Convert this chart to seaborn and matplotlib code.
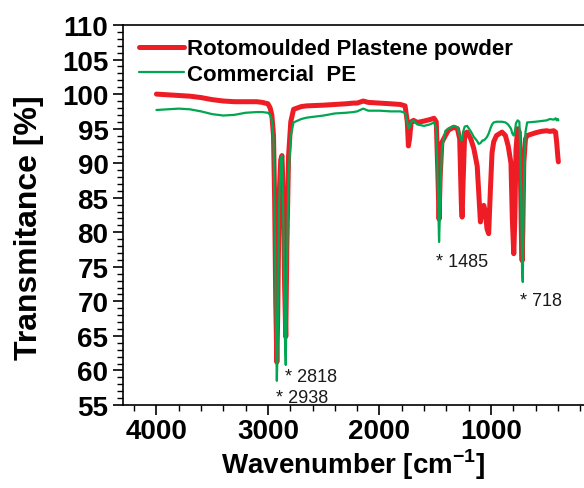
import numpy as np
import pandas as pd
import matplotlib
matplotlib.use('Agg')
import matplotlib.pyplot as plt
from matplotlib.ticker import MultipleLocator
import seaborn as sns

# Espectros FTIR (numero de onda en cm-1, transmitancia en %)
wavenumber = [4000, 3900, 3800, 3700, 3600, 3500, 3400, 3300, 3200, 3100, 3050, 3000,
              2980, 2965, 2950, 2940, 2930, 2920, 2912, 2900, 2885, 2874, 2862, 2850,
              2840, 2830, 2815, 2795, 2770, 2700, 2650, 2500, 2400, 2300, 2234, 2200,
              2145, 2100, 2000, 1900, 1812, 1770, 1750, 1740, 1730, 1715, 1694, 1660,
              1600, 1550, 1510, 1490, 1475, 1465, 1455, 1440, 1408, 1380, 1333, 1300,
              1280, 1265, 1258, 1250, 1235, 1213, 1180, 1153, 1123, 1110, 1094, 1075,
              1064, 1050, 1035, 1020, 1005, 990, 975, 950, 900, 870, 845, 820,
              808, 795, 785, 775, 760, 745, 735, 725, 720, 714, 705, 690,
              675, 600, 550, 500, 470, 437, 420, 410, 400, 395]

rotomoulded = [100.0, 99.9, 99.8, 99.7, 99.5, 99.2, 99.0, 98.9, 98.9, 98.9, 98.8, 98.6,
               98.0, 97.0, 94.0, 85.0, 70.0, 61.2, 68.0, 85.0, 90.5, 91.1, 85.0, 72.0,
               64.9, 78.0, 91.0, 96.0, 97.8, 98.2, 98.3, 98.4, 98.5, 98.6, 98.7, 98.7,
               99.0, 98.8, 98.7, 98.6, 98.5, 98.3, 96.0, 92.5, 93.5, 96.0, 96.2, 95.9,
               96.1, 96.3, 96.5, 96.0, 88.0, 81.9, 88.0, 93.0, 94.0, 94.8, 95.2, 95.0,
               93.5, 84.0, 82.2, 87.0, 94.3, 94.5, 93.5, 92.1, 89.6, 86.0, 81.5, 83.5,
               83.9, 83.0, 80.5, 79.8, 86.0, 91.5, 93.1, 94.0, 94.5, 94.0, 92.5, 90.0,
               82.0, 76.9, 82.0, 92.0, 95.0, 94.5, 88.0, 78.0, 75.9, 80.0, 90.0, 93.5,
               94.0, 94.4, 94.6, 94.7, 94.6, 94.7, 94.5, 93.0, 91.0, 90.2]

commercial = [97.7, 97.8, 97.9, 97.8, 97.5, 97.1, 96.9, 97.0, 97.3, 97.4, 97.4, 97.3,
              97.0, 96.2, 93.5, 83.0, 68.0, 58.5, 64.0, 84.0, 90.5, 91.1, 82.0, 66.0,
              60.8, 75.0, 88.0, 94.0, 95.9, 96.4, 96.6, 96.9, 97.2, 97.3, 97.4, 97.5,
              97.9, 97.6, 97.6, 97.5, 97.5, 97.3, 96.0, 95.0, 95.2, 96.0, 96.2, 95.6,
              95.4, 95.6, 95.9, 95.0, 86.0, 78.6, 84.0, 92.0, 94.7, 95.0, 95.4, 95.2,
              94.0, 93.3, 93.4, 94.5, 95.3, 95.4, 94.6, 93.8, 93.2, 92.8, 92.9, 93.3,
              93.3, 93.5, 93.8, 94.3, 95.0, 95.6, 95.9, 96.0, 96.0, 95.9, 95.6, 95.0,
              94.3, 94.0, 94.6, 95.8, 96.2, 96.0, 92.0, 80.0, 74.0, 72.8, 86.0, 94.5,
              95.9, 96.0, 96.1, 96.2, 96.4, 96.3, 96.5, 96.2, 96.4, 96.2]

peak_labels = ['* 2938', '* 2818', '* 1485', '* 718']
peak_x = [2925, 2845, 1489, 742]
peak_y = [56.1, 59.1, 75.7, 70.1]

sns.set_style('ticks')
plt.rcParams['font.family'] = ['Liberation Sans', 'DejaVu Sans']
plt.rcParams['mathtext.fontset'] = 'custom'
plt.rcParams['mathtext.bf'] = 'Liberation Sans:bold'
plt.rcParams['mathtext.rm'] = 'Liberation Sans:bold'
for k in ['text.color', 'axes.labelcolor', 'xtick.color', 'ytick.color']:
    plt.rcParams[k] = 'black'

fig = plt.figure(figsize=(5.84, 4.89), dpi=100)
ax = fig.add_axes([0.2106, 0.1697, 0.7894, 0.7771])

sns.lineplot(x=wavenumber, y=rotomoulded, color='#ee1c25', linewidth=3.6,
             label='Rotomoulded Plastene powder', ax=ax)
sns.lineplot(x=wavenumber, y=commercial, color='#00a651', linewidth=1.6,
             label='Commercial  PE', ax=ax)

for t, px, py in zip(peak_labels, peak_x, peak_y):
    ax.text(px, py, t, fontsize=13, ha='left', va='center', color='#1a1a1a')

ax.set_xlim(4300, 165)
ax.set_ylim(55, 110)
ax.xaxis.set_major_locator(MultipleLocator(1000))
ax.xaxis.set_minor_locator(MultipleLocator(200))
ax.yaxis.set_major_locator(MultipleLocator(5))
ax.yaxis.set_minor_locator(MultipleLocator(1))
ax.tick_params(which='major', direction='out', length=7, width=1.2, labelsize=20)
ax.tick_params(axis='x', which='major', pad=2.5)
ax.tick_params(which='minor', direction='out', length=4, width=1)
for lab in ax.get_xticklabels() + ax.get_yticklabels():
    lab.set_fontweight('bold')

ax.spines['right'].set_visible(False)
for s in ['left', 'bottom', 'top']:
    ax.spines[s].set_linewidth(1.2)
    ax.spines[s].set_color('black')

ax.set_xlabel('Wavenumber [cm$^{\\mathbf{-1}}$]', fontsize=20, fontweight='bold', labelpad=2)
ax.set_ylabel('Transmitance [%]', fontsize=23, fontweight='bold')
ax.yaxis.set_label_coords(-0.172, 0.47)

ax.legend(loc='upper left', bbox_to_anchor=(0.035, 0.965), frameon=False,
          prop={'weight': 'bold', 'size': 16}, handlelength=2.0,
          handletextpad=0.15, labelspacing=0.2, borderpad=0, borderaxespad=0)

fig.savefig('out.png', dpi=100)
